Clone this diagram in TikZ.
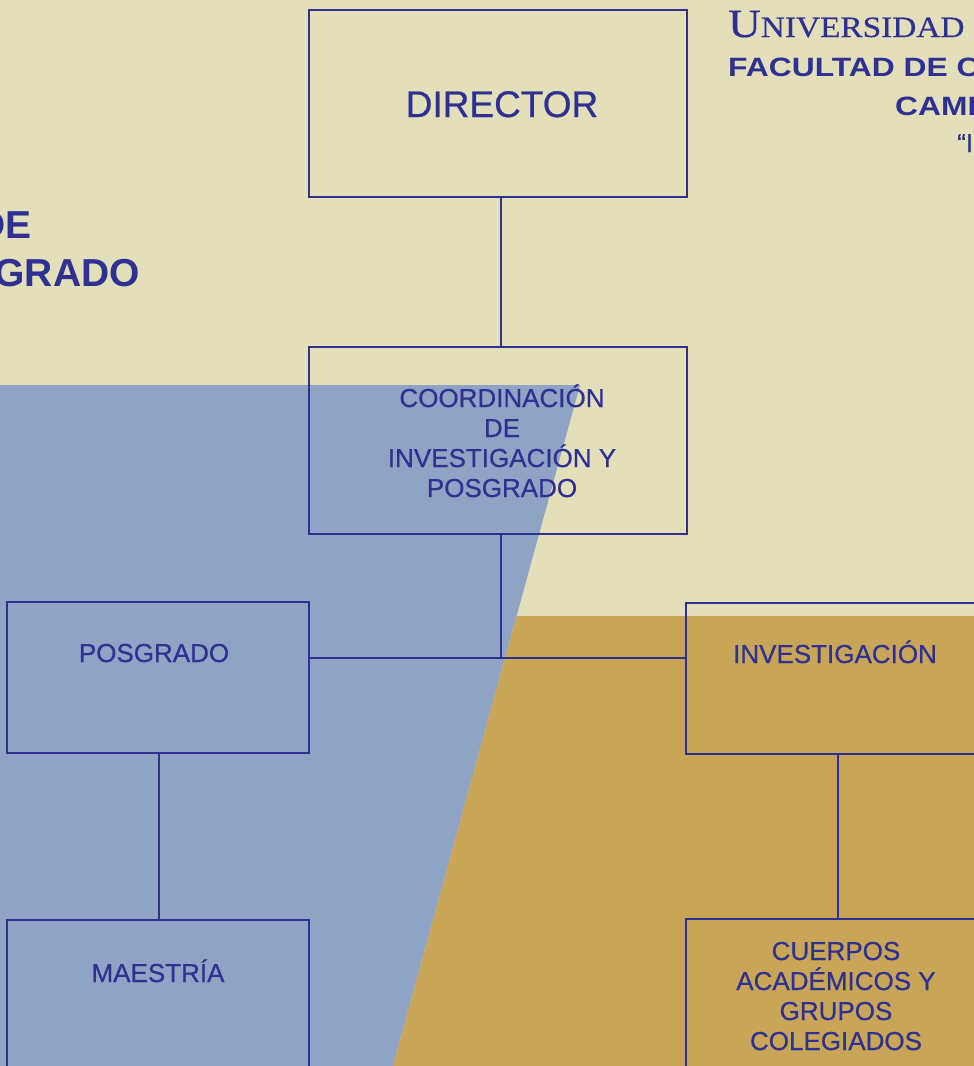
\documentclass[tikz,border=0pt]{standalone}
\usepackage{graphicx}
\usepackage{fontspec}
\setmainfont{Liberation Sans}
\newfontfamily\lblfont[FakeBold=0.6]{Liberation Sans}
\newfontfamily\serifU[FakeBold=0.4]{Liberation Serif}
\definecolor{cream}{HTML}{E3DFBA}
\definecolor{bluebg}{HTML}{8FA3C4}
\definecolor{goldbg}{HTML}{C9A657}
\definecolor{ink}{HTML}{2E3192}
\begin{document}
\begin{tikzpicture}[x=1pt,y=-1pt,
  box/.style={draw=ink, line width=1.5pt, rectangle, inner sep=0pt, outer sep=0pt, anchor=north west},
  conn/.style={draw=ink, line width=1.5pt},
  lbl/.style={text=ink, inner sep=0pt, font=\lblfont\fontsize{26}{30}\selectfont, anchor=base},
  ttl/.style={text=ink, inner sep=0pt, anchor=base west}]
\useasboundingbox (0,0) rectangle (974,1066);
\clip (0,0) rectangle (974,1066);
% background regions
\fill[cream] (0,0) rectangle (974,1066);
\fill[bluebg] (0,385) -- (580,385) -- (393,1066) -- (0,1066) -- cycle;
\fill[goldbg] (516.6,616) -- (974,616) -- (974,1066) -- (393,1066) -- cycle;
% boxes
\node[box, minimum width=378, minimum height=187] (dir) at (309,10) {};
\node[box, minimum width=378, minimum height=187] (coord) at (309,347) {};
\node[box, minimum width=302, minimum height=151] (pos) at (7,602) {};
\node[box, minimum width=302, minimum height=151] (inv) at (686,603) {};
\node[box, minimum width=302, minimum height=151] (mae) at (7,920) {};
\node[box, minimum width=302, minimum height=151] (cue) at (686,919) {};
% connectors
\coordinate (j) at (501,658);
\draw[conn] ([xshift=3pt]dir.south) -- ([xshift=3pt]coord.north);
\draw[conn] ([xshift=3pt]coord.south) -- (j);
\draw[conn] (pos.east |- j) -- (inv.west |- j);
\draw[conn] ([xshift=1pt]pos.south) -- ([xshift=1pt]mae.north);
\draw[conn] ([xshift=1pt]inv.south) -- ([xshift=1pt]cue.north);
% box texts
\node[lbl, font=\lblfont\fontsize{37}{40}\selectfont] (dirt) at (502,117) {DIRECTOR};
\node[lbl] (coordt) at (502,407) {\vtop{\halign{\hfil#\hfil\cr COORDINACIÓN\cr DE\cr INVESTIGACIÓN Y\cr POSGRADO\cr}}};
\node[lbl] (post) at (154,662) {POSGRADO};
\node[lbl] (invt) at (835,663) {INVESTIGACIÓN};
\node[lbl] (maet) at (158,982) {MAESTRÍA};
\node[lbl] (cuet) at (836,960) {\vtop{\halign{\hfil#\hfil\cr CUERPOS\cr ACADÉMICOS Y\cr GRUPOS\cr COLEGIADOS\cr}}};
% titles
\node[ttl] (uni) at (728,37) {\scalebox{1.13}[1]{\serifU\fontsize{40}{40}\selectfont U\fontsize{29.5}{30}\selectfont NIVERSIDAD}};
\node[ttl] (fac) at (728,76) {\scalebox{1.2}[1]{\bfseries\fontsize{26.5}{26.5}\selectfont FACULTAD DE CIENCIAS}};
\node[ttl] (cam) at (895,115) {\scalebox{1.2}[1]{\bfseries\fontsize{26.5}{26.5}\selectfont CAMPUS}};
\node[ttl] (quo) at (957,152) {\lblfont\fontsize{26}{26}\selectfont “I};
\node[text=ink, inner sep=0pt, anchor=base east] (lt1) at (31.5,238) {\bfseries\fontsize{39}{39}\selectfont DE};
\node[text=ink, inner sep=0pt, anchor=base east] (lt2) at (140,286) {\bfseries\fontsize{39}{39}\selectfont POSGRADO};
\end{tikzpicture}
\end{document}
